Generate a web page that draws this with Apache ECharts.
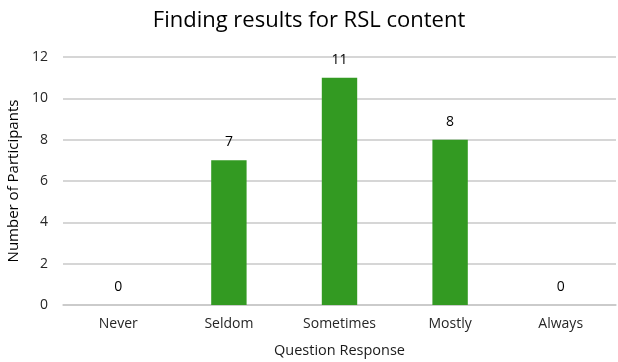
<!DOCTYPE html>
<html>
<head>
<meta charset="UTF-8">
<title>Finding results for RSL content</title>
<script src="https://cdn.jsdelivr.net/npm/echarts@6/dist/echarts.min.js"></script>
<style>
  html, body { margin: 0; padding: 0; background: #fff; }
  #chart { width: 618px; height: 362px; }
</style>
</head>
<body>
<div id="chart"></div>
<script>
// data
const categories = ['Never', 'Seldom', 'Sometimes', 'Mostly', 'Always'];
const participants = [0, 7, 11, 8, 0];

const font = "'Open Sans', 'Liberation Sans', sans-serif";
const chart = echarts.init(document.getElementById('chart'));

chart.setOption({
  animation: false,
  title: {
    text: 'Finding results for RSL content',
    left: 'center',
    top: 5,
    textStyle: { fontFamily: font, fontSize: 22, fontWeight: 'normal', color: '#000' }
  },
  grid: { left: 63, right: 2, top: 57, bottom: 57, outerBoundsMode: 'none', containLabel: false },
  xAxis: {
    type: 'category',
    data: categories,
    name: 'Question Response',
    nameLocation: 'middle',
    nameGap: 38,
    nameTextStyle: { fontFamily: font, fontSize: 14.5, color: '#1a1a1a' },
    axisLine: { lineStyle: { color: '#c8c8c8', width: 1.5 } },
    axisTick: { show: false },
    axisLabel: { fontFamily: font, fontSize: 14, color: '#262626', margin: 12 }
  },
  yAxis: {
    type: 'value',
    min: 0,
    max: 12,
    interval: 2,
    name: 'Number of Participants',
    nameLocation: 'middle',
    nameGap: 42,
    nameTextStyle: { fontFamily: font, fontSize: 15, color: '#000' },
    axisLine: { show: false },
    axisTick: { show: false },
    axisLabel: { fontFamily: font, fontSize: 14, color: '#262626', margin: 15 },
    splitLine: { lineStyle: { color: '#c8c8c8', width: 1.5 } }
  },
  series: [{
    type: 'bar',
    data: participants,
    barWidth: '32%',
    itemStyle: { color: '#339a22' },
    label: {
      show: true,
      position: 'top',
      distance: 11,
      fontFamily: font,
      fontSize: 14,
      color: '#000'
    }
  }]
});
</script>
</body>
</html>
